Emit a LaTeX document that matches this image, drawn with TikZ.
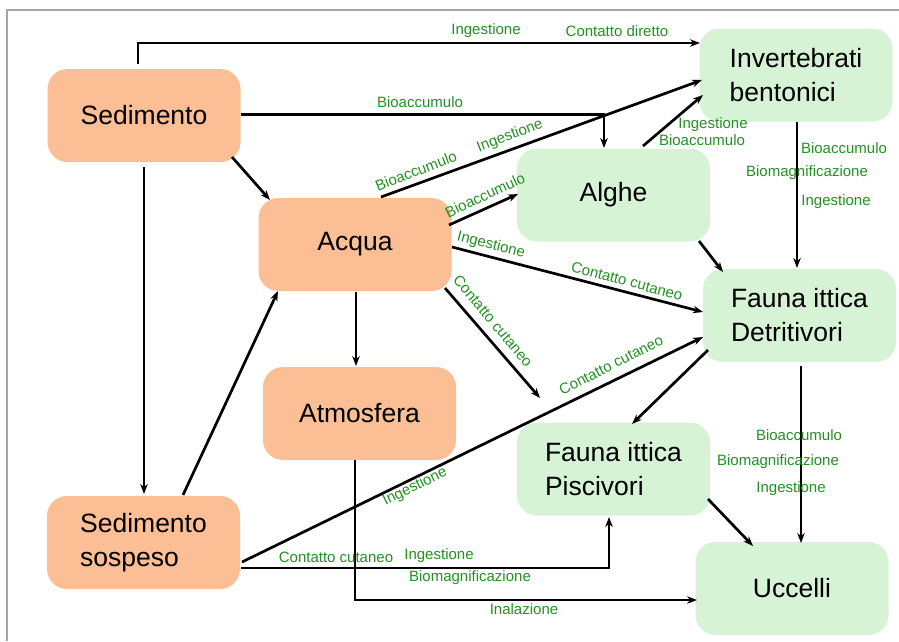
\documentclass[tikz,border=0pt]{standalone}
\usepackage{fontspec}
\setmainfont{Liberation Sans}
\usetikzlibrary{arrows.meta,calc}
\definecolor{orfill}{RGB}{252,190,148}
\definecolor{grfill}{RGB}{214,243,214}
\definecolor{lblgreen}{RGB}{34,145,34}
\definecolor{framegray}{RGB}{165,165,165}
\begin{document}
\begin{tikzpicture}[x=1pt,y=-1pt,
 box/.style={rounded corners=20pt, minimum width=193pt, minimum height=93pt, inner sep=0pt, align=left, font=\fontsize{26.5}{34}\selectfont},
 src/.style={box, fill=orfill},
 bio/.style={box, fill=grfill},
 conn/.style={line width=2.7pt, -{Stealth[length=10pt,width=7.5pt]}},
 lbl/.style={text=lblgreen, font=\fontsize{15}{17}\selectfont, inner sep=1pt}]
\useasboundingbox (0,0) rectangle (899,641);
\draw[framegray, line width=1.2pt] (899,10) -- (7,10) -- (7,641);
% nodes
\node[src] (sed) at (144,115.5) {Sedimento};
\node[src] (acq) at (355,244.5) {Acqua};
\node[src] (atm) at (359.5,413.5) {Atmosfera};
\node[src] (sos) at (143.5,542.5) {Sedimento\\sospeso};
\node[bio] (inv) at (796,75) {Invertebrati\\bentonici};
\node[bio] (alg) at (613.5,195) {Alghe};
\node[bio] (det) at (799.5,315.5) {Fauna ittica\\Detritivori};
\node[bio] (pis) at (613.5,469) {Fauna ittica\\Piscivori};
\node[bio] (ucc) at (792,588.5) {Uccelli};
% connectors
\draw[conn] ($(sed)+(-6,-51.5)$) |- ($(inv)+(-96,-32)$);
\draw[conn] ($(sed)+(97,-1)$) -| ($(alg)+(-9.5,-47)$);
\draw[conn] ($(sed)+(88,41.5)$) -- ($(acq)+(-85,-44.5)$);
\draw[conn] ($(sed)+(0,51.5)$) -- ($(sos)+(0.5,-48.5)$);
\draw[conn] ($(sos)+(39.5,-47.5)$) -- ($(acq)+(-77,46.5)$);
\draw[conn] ($(acq)+(26,-47.5)$) -- ($(inv)+(-94,5)$);
\draw[conn] ($(acq)+(94,-19.5)$) -- ($(alg)+(-95.5,-1)$);
\draw[conn] ($(acq)+(97,2.5)$) -- ($(det)+(-96.5,-3.5)$);
\coordinate (x9) at (540,398);
\draw[conn] ($(acq)+(90,43.5)$) -- (x9);
\draw[conn] ($(acq)+(1,47.5)$) -- ($(atm)+(-3.5,-47.5)$);
\draw[conn] ($(atm)+(-4.5,46.5)$) |- ($(ucc)+(-95,11.5)$);
\draw[conn] ($(sos)+(97.5,25.5)$) -| ($(pis)+(-4.5,48)$);
\draw[conn] ($(sos)+(98.5,19.5)$) -- ($(det)+(-96.5,21.5)$);
\draw[conn] ($(det)+(-91.5,34.5)$) -- ($(pis)+(18.5,-45)$);
\draw[conn] ($(det)+(1.5,50.5)$) -- ($(ucc)+(9,-45.5)$);
\draw[conn] ($(pis)+(94.5,30)$) -- ($(ucc)+(-39,-42.5)$);
\draw[conn] ($(alg)+(85.5,46)$) -- ($(det)+(-76.5,-43.5)$);
\draw[conn] ($(alg)+(29.5,-49)$) -- ($(inv)+(-93,20)$);
\draw[conn] ($(inv)+(1,47)$) -- ($(det)+(-2.5,-47.5)$);
% labels
\node[lbl] (l1) at (486,31) {Ingestione};
\node[lbl] (l2) at (617,31) {Contatto diretto};
\node[lbl] (l3) at (420,102) {Bioaccumulo};
\node[lbl,rotate=21] (l4) at (416,171) {Bioaccumulo};
\node[lbl,rotate=21] (l5) at (510,136) {Ingestione};
\node[lbl,rotate=25] (l6) at (485,195) {Bioaccumulo};
\node[lbl] (l7) at (713,125) {Ingestione};
\node[lbl] (l8) at (702,140) {Bioaccumulo};
\node[lbl] (l9) at (844,148) {Bioaccumulo};
\node[lbl] (l10) at (807,173) {Biomagnificazione};
\node[lbl] (l11) at (836,202) {Ingestione};
\node[lbl,rotate=-14] (l12) at (491,245) {Ingestione};
\node[lbl,rotate=-15] (l13) at (627,281) {Contatto cutaneo};
\node[lbl,rotate=-50] (l14) at (493,321) {Contatto cutaneo};
\node[lbl,rotate=27] (l15) at (611,365) {Contatto cutaneo};
\node[lbl,rotate=26] (l16) at (415,487) {Ingestione};
\node[lbl] (l17) at (799,435) {Bioaccumulo};
\node[lbl] (l18) at (778,462) {Biomagnificazione};
\node[lbl] (l19) at (791,489) {Ingestione};
\node[lbl] (l20) at (336,557) {Contatto cutaneo};
\node[lbl] (l21) at (439,556) {Ingestione};
\node[lbl] (l22) at (470,578) {Biomagnificazione};
\node[lbl] (l23) at (524,609) {Inalazione};
\end{tikzpicture}
\end{document}
